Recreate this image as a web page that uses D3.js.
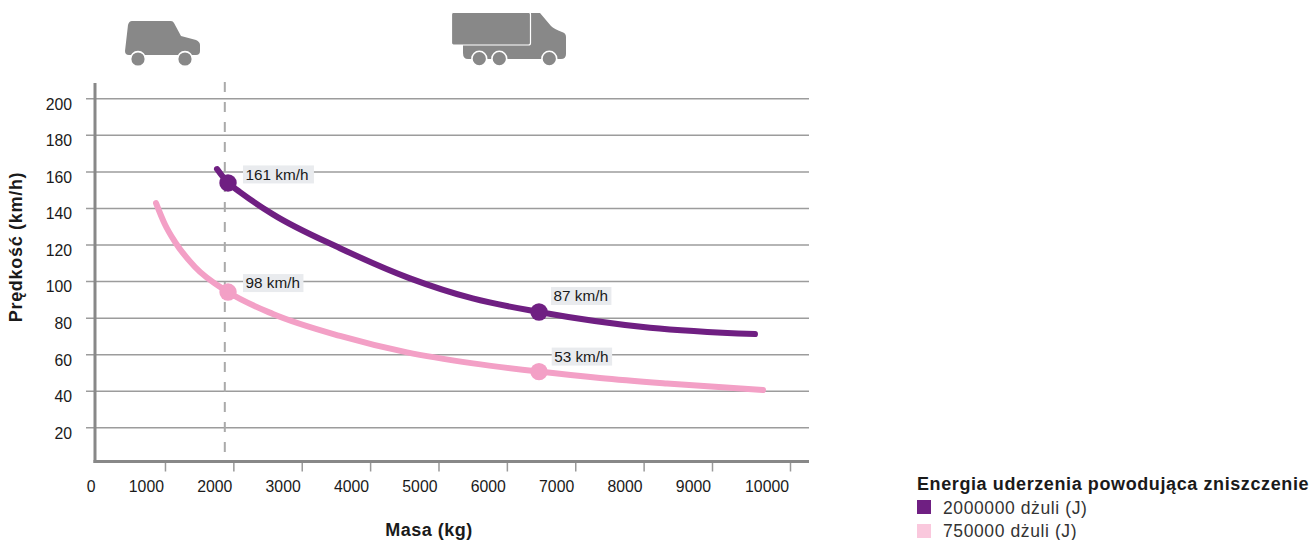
<!DOCTYPE html>
<html><head><meta charset="utf-8">
<style>
html,body{margin:0;padding:0;background:#fff;overflow:hidden}
text{font-family:"Liberation Sans",Helvetica,Arial,sans-serif;fill:#1a1a1a}
</style>
<script src="https://cdn.jsdelivr.net/npm/d3@7/dist/d3.min.js"></script>
</head><body><svg id="c" width="1311" height="540"></svg>
<script>
const massTicks = [1000,2000,3000,4000,5000,6000,7000,8000,9000,10000];
const speedTicks = [20,40,60,80,100,120,140,160,180,200];
const seriesNames = ["2000000 dżuli (J)","750000 dżuli (J)"];
const legendTitle = "Energia uderzenia powodująca zniszczenie";
const highMass  = [1761,1922,2097,2580,3560,4583,5500,6470,8094,9551];
const highSpeed = [161.3,153.7,148.7,136.5,118,101.5,90.5,83.1,74.5,71];
const lowMass   = [869,1000,1146,1439,1922,2580,3560,4540,5505,6470,7362,8342,9654];
const lowSpeed  = [142.7,131,121.5,107.7,94,82,70,61,55,50.5,47,44,40.4];
const markerMass  = [1922,6470,1922,6470];
const markerSpeed = [153.7,83.1,94,50.5];
const markerSeries = [0,0,1,1];
const markerLabels = ["161 km/h","87 km/h","98 km/h","53 km/h"];
const thresholdMass = 1875;

const colors = ["#6f1f82","#f3a0c6"];
const swatches = ["#6f1f82","#fac8dd"];
const svg = d3.select("#c");

const x = d3.scaleLinear().domain([0,9000,10000]).range([96.6,712,790]);
const y = d3.scaleLinear().domain([0,200]).range([463.9,98.3]);

// y axis with gridlines
const yAxis = svg.append("g").attr("transform","translate(95,0)")
  .call(d3.axisLeft(y).tickValues(speedTicks).tickSize(9).tickPadding(14));
yAxis.select(".domain").remove();
yAxis.selectAll(".tick line").attr("x2",714).attr("x1",-9).attr("stroke","#9c9c9c").attr("stroke-width",1.5);
yAxis.selectAll(".tick text").attr("dy",null).attr("y",10.8)
  .style("font-size","15.8px").style("fill","#1a1a1a").attr("font-family",null);

// x axis
const xAxis = svg.append("g").attr("transform","translate(0,461.5)")
  .call(d3.axisBottom(x).tickValues([0].concat(massTicks)).tickFormat(d3.format("d")).tickSize(10).tickPadding(0));
xAxis.select(".domain").remove();
xAxis.selectAll(".tick line").attr("stroke","#999").attr("stroke-width",1.5)
  .filter(d=>d===0).remove();
xAxis.selectAll(".tick text").attr("text-anchor","end").attr("x",-1.5).attr("y",30.5).attr("dy",null)
  .style("font-size","15.8px").style("fill","#1a1a1a").attr("font-family",null);

// threshold
svg.append("line").attr("x1",x(thresholdMass)).attr("x2",x(thresholdMass)).attr("y1",82).attr("y2",460)
  .attr("stroke","#aaa").attr("stroke-width",2).attr("stroke-dasharray","10 10");

// axis lines
svg.append("line").attr("x1",95).attr("x2",95).attr("y1",83).attr("y2",463).attr("stroke","#888").attr("stroke-width",3);
svg.append("line").attr("x1",93.5).attr("x2",809).attr("y1",461.5).attr("y2",461.5).attr("stroke","#888").attr("stroke-width",3);

// curves
const line = d3.line().x(d=>x(d[0])).y(d=>y(d[1])).curve(d3.curveMonotoneX);
[[highMass,highSpeed],[lowMass,lowSpeed]].forEach((s,i)=>{
  svg.append("path").attr("d",line(d3.zip(s[0],s[1])))
    .attr("fill","none").attr("stroke",colors[i]).attr("stroke-width",6).attr("stroke-linecap","round");
});

// markers & labels
const labelDx = [15,12,15,12.7];
const labelDy = [-8.5,-16,-9,-15];
const labelPad = [8,6,6,6];
markerMass.forEach((m,i)=>{
  const cx = x(m), cy = y(markerSpeed[i]);
  svg.append("circle").attr("cx",cx).attr("cy",cy).attr("r",8.7).attr("fill",colors[markerSeries[i]]);
  const g = svg.append("g").attr("transform",`translate(${cx+labelDx[i]},${cy+labelDy[i]})`);
  const t = g.append("text").attr("x",2.5).style("font-size","15.3px").attr("dy","0.35em").text(markerLabels[i]);
  const w = t.node().getComputedTextLength();
  g.insert("rect","text").attr("x",0).attr("y",-9).attr("width",w+labelPad[i]).attr("height",18).attr("fill","#e9ebee");
});

// axis titles
svg.append("text").attr("x",429).attr("y",536).attr("text-anchor","middle").style("font-size","18px").style("letter-spacing","0.5px").style("font-weight","bold").text("Masa (kg)");
svg.append("text").attr("transform","translate(22,247) rotate(-90)").attr("text-anchor","middle").style("font-size","18px").style("letter-spacing","0.7px").style("font-weight","bold").text("Prędkość (km/h)");

// legend
svg.append("text").attr("x",917).attr("y",490).style("font-size","18px").style("letter-spacing","0.6px").style("font-weight","bold").text(legendTitle);
seriesNames.forEach((n,i)=>{
  svg.append("rect").attr("x",917).attr("y",500+24*i).attr("width",14).attr("height",14).attr("fill",swatches[i]);
  svg.append("text").attr("x",943).attr("y",514+23*i).style("font-size","17.5px").style("letter-spacing","0.6px").style("fill","#333").text(n);
});

// vehicle icons
const grey = "#888";
svg.append("path").attr("fill",grey)
  .attr("d","M132,21 L171,21 Q173,21 174,23 L181,36 L196,40 Q200,42 200,45 L200,51 Q200,55 196,55 L129,55 Q125,55 125,51 L128,25 Q129,21 132,21 Z");
[138,185].forEach(cx=>svg.append("circle").attr("cx",cx).attr("cy",59).attr("r",7.4).attr("fill",grey).attr("stroke","#fff").attr("stroke-width",1.6));
svg.append("path").attr("fill",grey)
  .attr("d","M531,13 L540,13 L551,26 Q554,29 562,32 Q566,33 566,37 L566,54 Q566,59 561,59 L468,59 Q463,59 463,53 L463,44 L531,44 Z");
svg.append("rect").attr("x",451.5).attr("y",12.5).attr("width",79).attr("height",32.5).attr("rx",2).attr("fill",grey).attr("stroke","#fff").attr("stroke-width",1.2);
[479.3,499.3,549.3].forEach(cx=>svg.append("circle").attr("cx",cx).attr("cy",58.7).attr("r",7.4).attr("fill",grey).attr("stroke","#fff").attr("stroke-width",1.6));
</script></body></html>
